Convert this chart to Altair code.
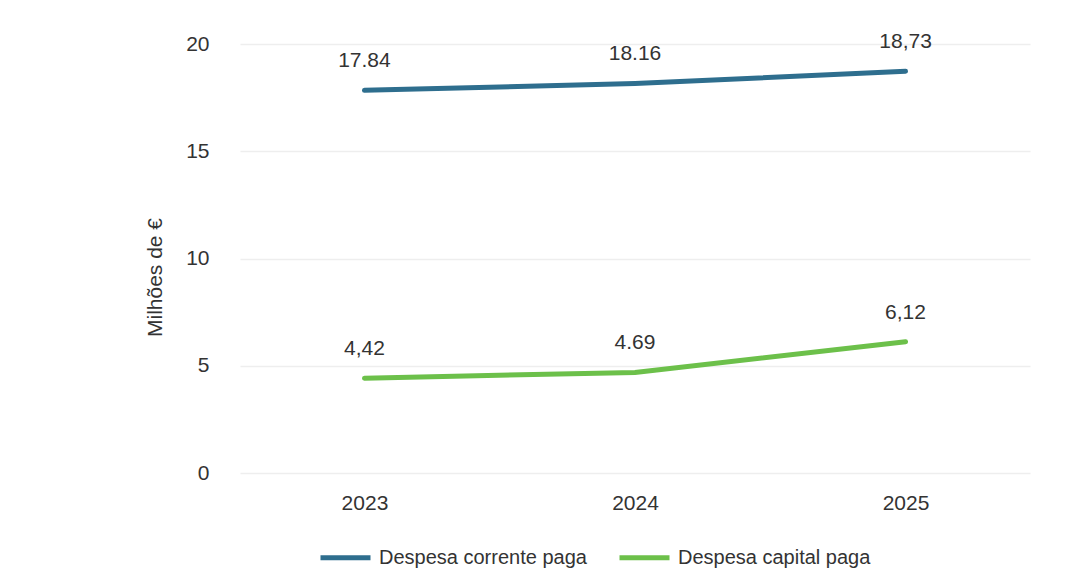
import altair as alt
import pandas as pd

years = ["2023", "2024", "2025"]
corrente = [17.84, 18.16, 18.73]
capital = [4.42, 4.69, 6.12]
corrente_labels = ["17.84", "18.16", "18,73"]
capital_labels = ["4,42", "4.69", "6,12"]
series = ["Despesa corrente paga", "Despesa capital paga"]
colors = ["#2E6E8E", "#6CC04A"]

rows = []
for i, y in enumerate(years):
    rows.append({"Ano": y, "Serie": series[0], "Valor": corrente[i], "Rotulo": corrente_labels[i]})
    rows.append({"Ano": y, "Serie": series[1], "Valor": capital[i], "Rotulo": capital_labels[i]})
df = pd.DataFrame(rows)

FONT = "Liberation Sans Narrow, Arial Narrow, Liberation Sans, sans-serif"

x = alt.X("Ano:N", sort=years, title=None,
          scale=alt.Scale(type="point", padding=0.46),
          axis=alt.Axis(labelAngle=0, labelFontSize=21, labelColor="#333333",
                        labelFont=FONT, domain=False, ticks=False, labelPadding=19))
y = alt.Y("Valor:Q", title="Milhões de €",
          scale=alt.Scale(domain=[0, 20]),
          axis=alt.Axis(values=[0, 5, 10, 15, 20], labelFontSize=21, labelColor="#333333",
                        labelFont=FONT, domain=False, ticks=False, labelPadding=31,
                        grid=True, gridColor="#EEEEEE", gridWidth=1.5,
                        titleFont=FONT, titleFontSize=21, titleFontWeight="normal",
                        titleColor="#333333", titlePadding=20, titleY=233))
color = alt.Color("Serie:N", sort=series,
                  scale=alt.Scale(domain=series, range=colors),
                  legend=alt.Legend(title=None, orient="none", legendX=78, legendY=486,
                                    direction="horizontal", symbolType="stroke",
                                    symbolSize=2500, symbolStrokeWidth=5,
                                    labelFont=FONT, labelFontSize=20, labelColor="#333333",
                                    labelOffset=6, columnPadding=22, labelLimit=400))

lines = alt.Chart(df).mark_line(strokeWidth=5, strokeCap="round").encode(
    x=x, y=y, color=color, detail="Serie:N")

texts = alt.Chart(df).mark_text(dy=-29, fontSize=21, font=FONT, color="#333333").encode(
    x=alt.X("Ano:N", sort=years), y="Valor:Q", text="Rotulo:N")

chart = alt.layer(lines, texts).properties(
    width=790, height=429,
    autosize=alt.AutoSizeParams(type="none"),
    padding={"left": 232, "top": 36, "right": 20, "bottom": 100},
    background="white",
).configure_view(stroke=None)

chart.save("out.html", embed_options={"renderer": "svg", "actions": False})
